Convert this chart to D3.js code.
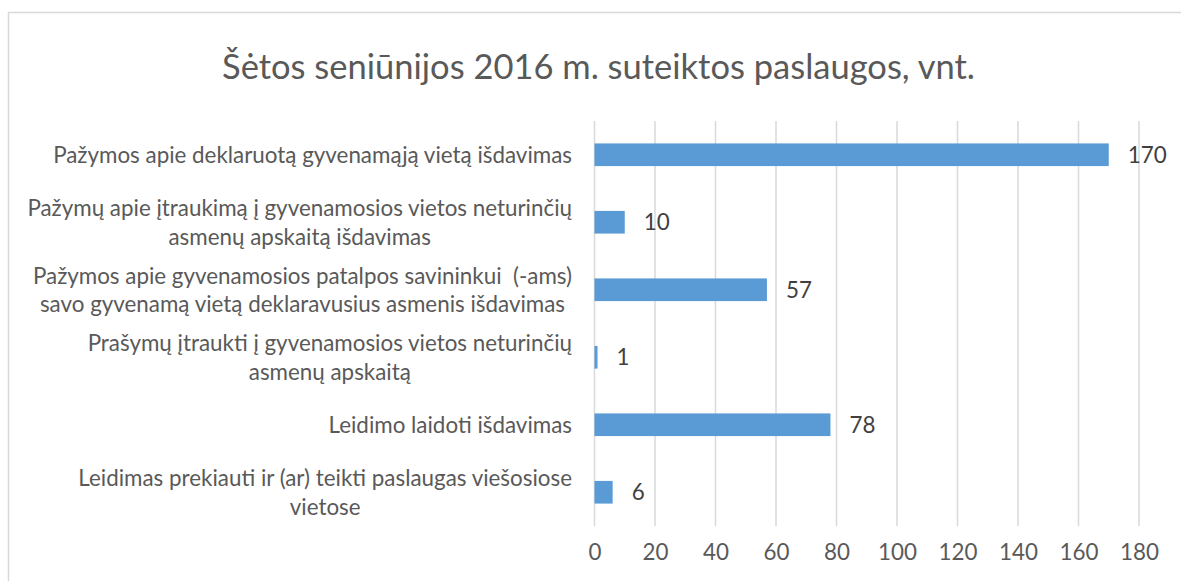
<!DOCTYPE html>
<html>
<head>
<meta charset="utf-8">
<script src="https://cdn.jsdelivr.net/npm/d3@7"></script>
<style>
  html, body { margin: 0; padding: 0; background: #ffffff; }
  svg { display: block; }
  text { font-family: Lato, "Open Sans", "Noto Sans", sans-serif; }
</style>
</head>
<body>
<svg id="chart" width="1181" height="581"></svg>
<script>
// Chart content
const chartTitle = "Šėtos seniūnijos 2016 m. suteiktos paslaugos, vnt.";
const categories = [
  "Pažymos apie deklaruotą gyvenamąją vietą išdavimas",
  "Pažymų apie įtraukimą į gyvenamosios vietos neturinčių\nasmenų apskaitą išdavimas",
  "Pažymos apie gyvenamosios patalpos savininkui  (-ams)\nsavo gyvenamą vietą deklaravusius asmenis išdavimas",
  "Prašymų įtraukti į gyvenamosios vietos neturinčių\nasmenų apskaitą",
  "Leidimo laidoti išdavimas",
  "Leidimas prekiauti ir (ar) teikti paslaugas viešosiose\nvietose"
];
const values = [170, 10, 57, 1, 78, 6];
const xTicks = [0, 20, 40, 60, 80, 100, 120, 140, 160, 180];

const svg = d3.select("#chart");
const W = 1181, H = 581;

// Outer chart frame
svg.append("rect")
  .attr("x", 8.5).attr("y", 12.5)
  .attr("width", 1300).attr("height", 700)
  .attr("fill", "#ffffff")
  .attr("stroke", "#d9d9d9").attr("stroke-width", 1.5);

// Plot area
const plot = { left: 594.5, right: 1139, top: 121, bottom: 526 };

const x = d3.scaleLinear()
  .domain([0, 180])
  .range([plot.left, plot.right]);

const y = d3.scaleBand()
  .domain(d3.range(categories.length))
  .range([plot.top, plot.bottom])
  .paddingInner(0.664)
  .paddingOuter(0.332);

// Helper: fit a font size so a string spans a given width
function fitSize(str, targetWidth, baseSize, weight) {
  const t = svg.append("text").attr("font-size", baseSize).style("white-space", "pre").text(str);
  const w = t.node().getComputedTextLength();
  t.remove();
  return baseSize * targetWidth / w;
}

// Title
const titleSize = fitSize(chartTitle, 753, 30);
svg.append("text")
  .attr("x", 598.5)
  .attr("y", 79)
  .attr("text-anchor", "middle")
  .attr("font-size", titleSize)
  .attr("fill", "#595959")
  .text(chartTitle);

// Vertical gridlines
svg.append("g")
  .selectAll("line")
  .data(xTicks)
  .join("line")
  .attr("x1", d => x(d)).attr("x2", d => x(d))
  .attr("y1", plot.top).attr("y2", plot.bottom)
  .attr("stroke", "#d9d9d9")
  .attr("stroke-width", 1.5);

// X axis tick labels
const labelSize = fitSize(categories[0], 519, 19);
const xAxis = d3.axisBottom(x).tickValues(xTicks).tickSize(0).tickPadding(0);
const gx = svg.append("g")
  .attr("transform", `translate(0, ${plot.bottom + 18})`)
  .call(xAxis);
gx.select(".domain").remove();
gx.selectAll("text")
  .attr("font-family", "Lato, 'Open Sans', sans-serif")
  .attr("font-size", labelSize)
  .attr("fill", "#595959")
  .attr("dy", "0.71em");

// Bars
svg.append("g")
  .selectAll("rect")
  .data(values)
  .join("rect")
  .attr("x", x(0))
  .attr("y", (d, i) => y(i))
  .attr("width", d => x(d) - x(0))
  .attr("height", y.bandwidth())
  .attr("fill", "#5b9bd5");

// Value labels
svg.append("g")
  .selectAll("text")
  .data(values)
  .join("text")
  .attr("x", d => x(d) + 19)
  .attr("y", (d, i) => y(i) + y.bandwidth() / 2)
  .attr("dy", "0.36em")
  .attr("font-size", labelSize)
  .attr("fill", "#404040")
  .text(d => d);

// Category labels: wrapped lines centred within a right-aligned block
const labelRight = 572;
const lineH = 28.5;
categories.forEach((cat, i) => {
  const lines = cat.split("\n");
  const g = svg.append("g");
  const texts = lines.map(line => g.append("text")
    .attr("font-size", labelSize)
    .attr("fill", "#595959")
    .style("white-space", "pre")
    .attr("text-anchor", "middle")
    .text(line));
  const maxW = d3.max(texts, t => t.node().getComputedTextLength());
  const cx = labelRight - maxW / 2;
  const cy = y(i) + y.bandwidth() / 2;
  const first = cy - (lines.length - 1) * lineH / 2;
  texts.forEach((t, k) => {
    t.attr("x", cx).attr("y", first + k * lineH).attr("dy", "0.36em");
  });
});
</script>
</body>
</html>
